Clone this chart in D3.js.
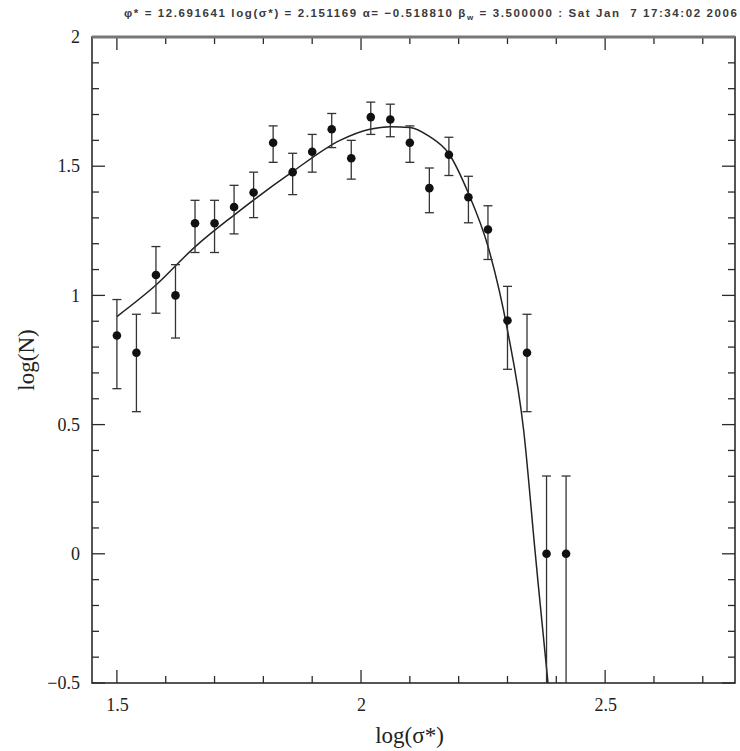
<!DOCTYPE html>
<html>
<head>
<meta charset="utf-8">
<script src="https://cdn.jsdelivr.net/npm/d3@7"></script>
<style>
  html, body { margin: 0; padding: 0; background: #fff; }
  svg { display: block; }
</style>
</head>
<body>
<svg id="chart" width="740" height="751"></svg>
<script>
// ---- data ----
const logSigma = [1.50, 1.54, 1.58, 1.62, 1.66, 1.70, 1.74, 1.78, 1.82, 1.86, 1.90, 1.94,
                  1.98, 2.02, 2.06, 2.10, 2.14, 2.18, 2.22, 2.26, 2.30, 2.34, 2.38, 2.42];
const logN     = [0.845, 0.778, 1.079, 1.000, 1.279, 1.279, 1.342, 1.398, 1.591, 1.477, 1.556, 1.643,
                  1.531, 1.690, 1.681, 1.591, 1.415, 1.544, 1.380, 1.255, 0.903, 0.778, 0.000, 0.000];
const errHigh  = [0.984, 0.927, 1.189, 1.119, 1.368, 1.368, 1.426, 1.477, 1.656, 1.550, 1.623, 1.704,
                  1.600, 1.748, 1.740, 1.656, 1.493, 1.612, 1.461, 1.347, 1.035, 0.927, 0.301, 0.301];
const errLow   = [0.639, 0.550, 0.931, 0.835, 1.166, 1.166, 1.238, 1.301, 1.515, 1.390, 1.477, 1.572,
                  1.450, 1.623, 1.614, 1.515, 1.320, 1.464, 1.281, 1.139, 0.714, 0.550, null, null];

// fitted curve
const fitX = [1.50, 1.58, 1.66, 1.74, 1.86, 1.957, 2.018, 2.06, 2.10, 2.14, 2.18, 2.22, 2.26, 2.30, 2.333, 2.357, 2.383, 2.39];
const fitY = [0.918, 1.040, 1.188, 1.311, 1.479, 1.600, 1.643, 1.653, 1.650, 1.615, 1.548, 1.395, 1.190, 0.865, 0.480, 0.000, -0.500, -0.62];

const xTickLabels = ["1.5", "2", "2.5"];
const xTickValues = [1.5, 2, 2.5];
const yTickLabels = ["\u22120.5", "0", "0.5", "1", "1.5", "2"];
const yTickValues = [-0.5, 0, 0.5, 1, 1.5, 2];
const xMinorValues = [1.6, 1.7, 1.8, 1.9, 2.1, 2.2, 2.3, 2.4, 2.6, 2.7];
const yMinorValues = [-0.4, -0.3, -0.2, -0.1, 0.1, 0.2, 0.3, 0.4, 0.6, 0.7, 0.8, 0.9,
                      1.1, 1.2, 1.3, 1.4, 1.6, 1.7, 1.8, 1.9];

const subtitleA = "\u03C6* = 12.691641 log(\u03C3*) = 2.151169 \u03B1= \u22120.518810 \u03B2";
const subtitleSub = "w";
const subtitleB = " = 3.500000 : Sat Jan  7 17:34:02 2006";
const xLabel = "log(\u03C3*)";
const yLabel = "log(N)";

// ---- layout ----
const L = 92, R = 735, T = 37, B = 683;
const svg = d3.select("#chart");
const x = d3.scaleLinear().domain([1.449, 2.766]).range([L, R]);
const y = d3.scaleLinear().domain([-0.5, 2]).range([B, T]);
const ink = "#2b2b2b";
const serif = "'Liberation Serif', 'DejaVu Serif', serif";

// subtitle
const st = svg.append("text")
  .attr("x", 124).attr("y", 17)
  .attr("font-family", "'Liberation Sans', Arial, sans-serif")
  .attr("font-size", 11.5).attr("font-weight", "bold")
  .attr("letter-spacing", 1.6)
  .attr("fill", "#3a3a3a")
  .attr("xml:space", "preserve");
st.append("tspan").text(subtitleA);
st.append("tspan").attr("font-size", 8).attr("dy", 3).text(subtitleSub);
st.append("tspan").attr("dy", -3).text(subtitleB);

// clip
svg.append("defs").append("clipPath").attr("id", "plotclip")
  .append("rect").attr("x", L).attr("y", T).attr("width", R - L).attr("height", B - T);

// axes with ticks
const major = 13, minor = 7;
const gBottom = svg.append("g").attr("transform", `translate(0,${B})`)
  .call(d3.axisBottom(x).tickValues(xTickValues).tickSize(0).tickPadding(14)
        .tickFormat((d, i) => xTickLabels[i]));
const gLeft = svg.append("g").attr("transform", `translate(${L},0)`)
  .call(d3.axisLeft(y).tickValues(yTickValues).tickSize(0).tickPadding(12)
        .tickFormat((d, i) => yTickLabels[i]));
[gBottom, gLeft].forEach(g => {
  g.select(".domain").remove();
  g.selectAll("text").attr("font-family", serif).attr("font-size", 18).attr("fill", "#222");
});
gBottom.selectAll("text").attr("dy", "0.75em");

const ticks = svg.append("g").attr("stroke", ink).attr("stroke-width", 1.3);
// bottom & top
xTickValues.forEach(v => {
  ticks.append("line").attr("x1", x(v)).attr("x2", x(v)).attr("y1", B).attr("y2", B - major);
  ticks.append("line").attr("x1", x(v)).attr("x2", x(v)).attr("y1", T).attr("y2", T + major);
});
xMinorValues.forEach(v => {
  ticks.append("line").attr("x1", x(v)).attr("x2", x(v)).attr("y1", B).attr("y2", B - minor);
  ticks.append("line").attr("x1", x(v)).attr("x2", x(v)).attr("y1", T).attr("y2", T + minor);
});
// left & right
yTickValues.forEach(v => {
  ticks.append("line").attr("y1", y(v)).attr("y2", y(v)).attr("x1", L).attr("x2", L + major);
  ticks.append("line").attr("y1", y(v)).attr("y2", y(v)).attr("x1", R).attr("x2", R - major);
});
yMinorValues.forEach(v => {
  ticks.append("line").attr("y1", y(v)).attr("y2", y(v)).attr("x1", L).attr("x2", L + minor);
  ticks.append("line").attr("y1", y(v)).attr("y2", y(v)).attr("x1", R).attr("x2", R - minor);
});

// frame
svg.append("rect").attr("x", L).attr("y", T).attr("width", R - L).attr("height", B - T)
  .attr("fill", "none").attr("stroke", ink).attr("stroke-width", 1.6);
svg.append("line").attr("x1", L).attr("x2", R).attr("y1", T).attr("y2", T)
  .attr("stroke", "#777").attr("stroke-width", 3);

// axis titles
svg.append("text").attr("x", (L + R) / 2 - 4).attr("y", 743)
  .attr("text-anchor", "middle").attr("font-family", serif).attr("font-size", 23)
  .attr("fill", "#222").text(xLabel);
svg.append("text").attr("transform", `translate(34,${(T + B) / 2}) rotate(-90)`)
  .attr("text-anchor", "middle").attr("font-family", serif).attr("font-size", 23)
  .attr("fill", "#222").text(yLabel);

// plot contents
const plot = svg.append("g").attr("clip-path", "url(#plotclip)");

const fitData = fitX.map((v, i) => [v, fitY[i]]);
plot.append("path").datum(fitData)
  .attr("fill", "none").attr("stroke", "#222").attr("stroke-width", 1.5)
  .attr("d", d3.line().x(d => x(d[0])).y(d => y(d[1])).curve(d3.curveMonotoneX));

const pts = logSigma.map((v, i) => ({ x: v, y: logN[i], hi: errHigh[i], lo: errLow[i] }));
const yMin = y.domain()[0];
const eb = plot.append("g").attr("stroke", "#333").attr("stroke-width", 1.3);
const capW = 4.5;
pts.forEach(p => {
  const lo = p.lo === null ? yMin - 0.2 : p.lo;
  eb.append("line").attr("x1", x(p.x)).attr("x2", x(p.x)).attr("y1", y(p.hi)).attr("y2", y(lo));
  eb.append("line").attr("x1", x(p.x) - capW).attr("x2", x(p.x) + capW).attr("y1", y(p.hi)).attr("y2", y(p.hi));
  if (p.lo !== null)
    eb.append("line").attr("x1", x(p.x) - capW).attr("x2", x(p.x) + capW).attr("y1", y(p.lo)).attr("y2", y(p.lo));
});
plot.append("g").selectAll("circle").data(pts).join("circle")
  .attr("cx", d => x(d.x)).attr("cy", d => y(d.y)).attr("r", 4.3).attr("fill", "#111");
</script>
</body>
</html>
